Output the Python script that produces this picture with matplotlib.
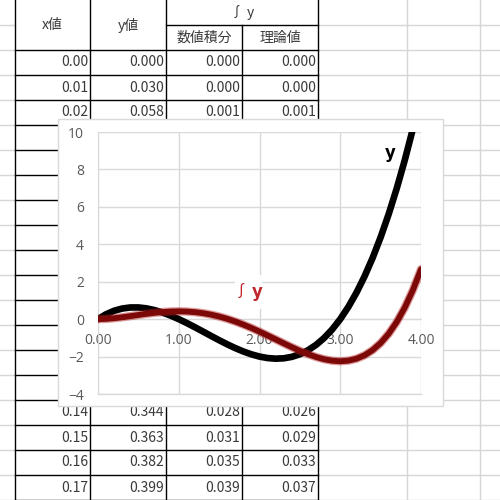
import matplotlib.pyplot as plt
from matplotlib.patches import Rectangle

# curve samples (step 0.1)
x_vals = [0.0, 0.1, 0.2, 0.3, 0.4, 0.5, 0.6, 0.7, 0.8, 0.9,
          1.0, 1.1, 1.2, 1.3, 1.4, 1.5, 1.6, 1.7, 1.8, 1.9,
          2.0, 2.1, 2.2, 2.3, 2.4, 2.5, 2.6, 2.7, 2.8, 2.9,
          3.0, 3.1, 3.2, 3.3, 3.4, 3.5, 3.6, 3.7, 3.8, 3.9, 4.0]
y_vals = [0.000, 0.261, 0.448, 0.567, 0.624, 0.625, 0.576, 0.483, 0.352, 0.189,
          0.000, -0.209, -0.432, -0.663, -0.896, -1.125, -1.344, -1.547, -1.728, -1.881,
          -2.000, -2.079, -2.112, -2.093, -2.016, -1.875, -1.664, -1.377, -1.008, -0.551,
          0.000, 0.651, 1.408, 2.277, 3.264, 4.375, 5.616, 6.993, 8.512, 10.179, 12.000]
int_vals = [0.000, 0.014, 0.050, 0.101, 0.161, 0.224, 0.284, 0.338, 0.380, 0.407,
            0.417, 0.406, 0.374, 0.320, 0.242, 0.141, 0.017, -0.128, -0.292, -0.472,
            -0.667, -0.871, -1.081, -1.292, -1.498, -1.693, -1.870, -2.023, -2.143, -2.222,
            -2.250, -2.218, -2.116, -1.933, -1.657, -1.276, -0.778, -0.148, 0.626, 1.559, 2.667]

# visible spreadsheet rows
tbl_row = [0, 1, 2, 14, 15, 16, 17]
tbl_x = [0.00, 0.01, 0.02, 0.14, 0.15, 0.16, 0.17]
tbl_y = [0.000, 0.030, 0.058, 0.344, 0.363, 0.382, 0.399]
tbl_num = [0.000, 0.000, 0.001, 0.028, 0.031, 0.035, 0.039]
tbl_thr = [0.000, 0.000, 0.001, 0.026, 0.029, 0.033, 0.037]

col_edges = [15, 90, 166, 242, 318]
jp = ['Noto Sans CJK JP', 'DejaVu Sans']
txt_c = '#3a3a3a'
fs = 10

fig = plt.figure(figsize=(5, 5), dpi=100)
sheet = fig.add_axes([0, 0, 1, 1])
sheet.set_xlim(0, 500)
sheet.set_ylim(500, 0)
sheet.axis('off')

# sheet gridlines outside the table
grid_c = '#d6d6d6'
for r in range(1, 21):
    sheet.plot([0, 15], [25 * r, 25 * r], color=grid_c, lw=1)
    sheet.plot([318, 500], [25 * r, 25 * r], color=grid_c, lw=1)
for xx in [407, 480]:
    sheet.plot([xx, xx], [0, 500], color=grid_c, lw=1)

# table borders
for xx in col_edges:
    if xx == 242:
        sheet.plot([xx, xx], [25, 500], color='black', lw=1)
    else:
        sheet.plot([xx, xx], [0, 500], color='black', lw=1)
sheet.plot([166, 318], [25, 25], color='black', lw=1)
for r in range(2, 21):
    sheet.plot([15, 318], [25 * r, 25 * r], color='black', lw=1)

# header
sheet.text(52, 25, 'x値', ha='center', va='center', fontsize=fs, color=txt_c, family=jp)
sheet.text(128, 25, 'y値', ha='center', va='center', fontsize=fs, color=txt_c, family=jp)
sheet.text(242, 12, '∫ y', ha='center', va='center', fontsize=fs, color=txt_c, family=jp)
sheet.text(204, 38, '数値積分', ha='center', va='center', fontsize=fs, color=txt_c, family=jp)
sheet.text(280, 38, '理論値', ha='center', va='center', fontsize=fs, color=txt_c, family=jp)

for r, a, b, c, d in zip(tbl_row, tbl_x, tbl_y, tbl_num, tbl_thr):
    yc = 50 + 25 * r + 12.5
    for xr, s in zip([88, 164, 240, 316],
                     [f'{a:.2f}', f'{b:.3f}', f'{c:.3f}', f'{d:.3f}']):
        sheet.text(xr, yc, s, ha='right', va='center', fontsize=fs, color=txt_c, family=jp)

# chart area
sheet.add_patch(Rectangle((58, 119), 385, 287, facecolor='white',
                          edgecolor='#d9d9d9', lw=1, zorder=5))

ax = fig.add_axes([98 / 500, 106 / 500, 323 / 500, 262 / 500])
ax.patch.set_alpha(0)
ax.plot(x_vals, y_vals, color='black', lw=4.8, solid_capstyle='round', zorder=3)
ax.plot(x_vals, int_vals, color='#b52020', lw=6.0, alpha=0.45, solid_capstyle='round', zorder=4)
ax.plot(x_vals, int_vals, color='#7d0808', lw=4.2, solid_capstyle='round', zorder=5)

ax.set_xlim(0, 4)
ax.set_ylim(-4, 10)
ax.set_xticks([0, 1, 2, 3, 4])
ax.set_xticklabels(['0.00', '1.00', '2.00', '3.00', '4.00'])
ax.set_yticks([-4, -2, 0, 2, 4, 6, 8, 10])
ax.grid(True, color='#d9d9d9', lw=1)
ax.set_axisbelow(True)
for s in ['top', 'right']:
    ax.spines[s].set_visible(False)
ax.spines['left'].set_color('#d9d9d9')
ax.spines['bottom'].set_color('#d9d9d9')
ax.spines['bottom'].set_position(('data', 0))
ax.tick_params(length=0, labelsize=10, labelcolor='#595959', pad=10)
for lbl in ax.get_xticklabels() + ax.get_yticklabels():
    lbl.set_family(['Open Sans', 'DejaVu Sans'])
ax.plot([0, 4], [-4, -4], color='#d9d9d9', lw=1, zorder=1, clip_on=False)

ax.text(3.62, 8.9, 'y', fontsize=12, fontweight='bold', color='black',
        ha='center', va='center', zorder=6)
ax.text(1.86, 1.45, '  ', fontsize=12, ha='center', va='center', zorder=6,
        bbox=dict(facecolor='white', edgecolor='none', pad=6))
ax.text(1.77, 1.45, '∫', fontsize=12, color='#c0282d',
        ha='center', va='center', zorder=7, family=jp)
ax.text(1.97, 1.45, 'y', fontsize=12, fontweight='bold', color='#c0282d',
        ha='center', va='center', zorder=7)

fig.savefig('out.png', dpi=100)
